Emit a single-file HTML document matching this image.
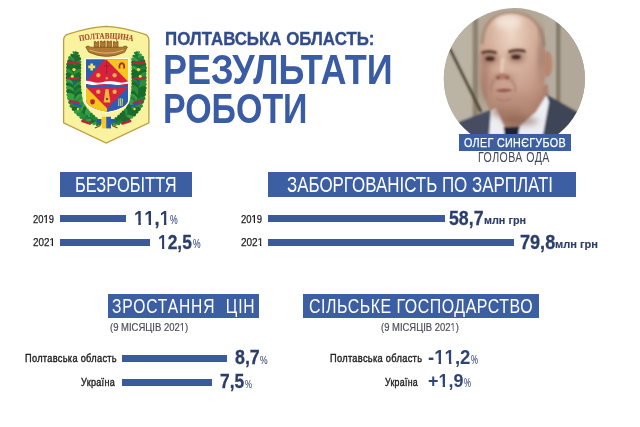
<!DOCTYPE html>
<html><head><meta charset="utf-8">
<style>
html,body{margin:0;padding:0;background:#fff;}
body{width:640px;height:427px;position:relative;overflow:hidden;font-family:"Liberation Sans",sans-serif;}
.t{position:absolute;white-space:nowrap;line-height:1;transform-origin:0 0;}
.box{position:absolute;background:#3c5ea3;}
.bar{position:absolute;background:#3a5a9c;}
svg{position:absolute;}
.o1b,.o1r{display:inline-block}
.o1b{font-weight:bold;-webkit-text-stroke:0 !important}
.o1b{clip-path:polygon(0 0,0.3706em 0,0.3706em 100%,0.2334em 100%,0.2334em 0.64em,0 0.64em)}
.o1r{clip-path:polygon(0 0,0.3398em 0,0.3398em 100%,0.2515em 100%,0.2515em 0.64em,0 0.64em)}
</style></head><body>
<svg style="left:55px;top:20px" width="100" height="130" viewBox="55 20 100 130">
  <defs>
    <filter id="eb" x="-5%" y="-5%" width="110%" height="110%"><feGaussianBlur stdDeviation="0.4"/></filter>
    <clipPath id="ish"><path d="M86 59.4 L128 59.4 L128 100 Q127.5 108 107.2 111.8 Q86.5 108 86 100 Z"/></clipPath>
  </defs>
  <path d="M63.6 40 Q63.8 34.8 69 33.8 Q90 27.2 106.2 26.3 Q122.5 27.2 143.5 33.8 Q148.7 34.8 148.9 40 L148.9 122.8 L106.2 143 L63.6 122.8 Z" fill="#f9f29e" stroke="#bf9c40" stroke-width="1.3"/>
  <g filter="url(#eb)">
  <path id="arcp" d="M68 44 Q106.3 33 144.6 44" fill="none"/>
  <text font-family="Liberation Serif" font-weight="bold" font-size="8.4" fill="#a84a2c" stroke="#a84a2c" stroke-width="0.1"><textPath href="#arcp" startOffset="50%" text-anchor="middle" textLength="54" lengthAdjust="spacingAndGlyphs">ПОЛТАВЩИНА</textPath></text>
  <g fill="#b07a34" stroke="#7a4a1c" stroke-width="0.7">
    <path d="M94.3 48 L94.3 41.4 L95.6 41.4 L95.6 42.5 L97.6 42.5 L97.6 41.4 L98.9 41.4 L98.9 48 Z"/>
    <path d="M100.6 48 L100.6 41.0 L101.9 41.0 L101.9 42.1 L103.9 42.1 L103.9 41.0 L105.2 41.0 L105.2 48 Z"/>
    <path d="M107.0 48 L107.0 41.0 L108.3 41.0 L108.3 42.1 L110.3 42.1 L110.3 41.0 L111.6 41.0 L111.6 48 Z"/>
    <path d="M113.4 48 L113.4 41.4 L114.7 41.4 L114.7 42.5 L116.7 42.5 L116.7 41.4 L118.0 41.4 L118.0 48 Z"/>
    <path d="M85.8 47 Q87.8 44.8 90.4 47.2 L122.6 47.2 Q125.2 44.8 127.4 47 L124.6 52.2 Q106.5 60.6 88.8 52.2 Z"/>
  </g>
  <path d="M89.5 50 Q106.5 56.2 123.8 50" stroke="#d6ad6a" stroke-width="1.1" fill="none"/>
  <circle cx="75.5" cy="53.5" r="2.2" fill="#1d7431"/><circle cx="75.0" cy="56.7" r="3.2" fill="#1d7431"/><circle cx="74.5" cy="59.9" r="4.3" fill="#1d7431"/><circle cx="74.1" cy="63.1" r="4.6" fill="#1d7431"/><circle cx="73.7" cy="66.3" r="4.9" fill="#1d7431"/><circle cx="73.5" cy="69.6" r="5.0" fill="#1d7431"/><circle cx="73.5" cy="72.8" r="5.0" fill="#1d7431"/><circle cx="73.5" cy="76.0" r="5.0" fill="#1d7431"/><circle cx="73.5" cy="79.3" r="5.0" fill="#1d7431"/><circle cx="73.5" cy="82.5" r="5.0" fill="#1d7431"/><circle cx="73.6" cy="85.8" r="5.0" fill="#1d7431"/><circle cx="73.8" cy="89.0" r="5.0" fill="#1d7431"/><circle cx="74.0" cy="92.2" r="5.0" fill="#1d7431"/><circle cx="74.5" cy="95.4" r="5.0" fill="#1d7431"/><circle cx="74.9" cy="98.6" r="5.0" fill="#1d7431"/><circle cx="76.0" cy="101.7" r="4.9" fill="#1d7431"/><circle cx="77.1" cy="104.8" r="4.7" fill="#1d7431"/><circle cx="78.7" cy="107.5" r="4.6" fill="#1d7431"/><circle cx="80.6" cy="110.1" r="4.4" fill="#1d7431"/><circle cx="82.7" cy="112.6" r="4.3" fill="#1d7431"/><circle cx="85.2" cy="114.7" r="4.1" fill="#1d7431"/><circle cx="87.7" cy="116.7" r="4.0" fill="#1d7431"/><circle cx="90.4" cy="118.4" r="3.7" fill="#1d7431"/><circle cx="93.2" cy="120.1" r="3.3" fill="#1d7431"/><circle cx="96.1" cy="121.6" r="2.9" fill="#1d7431"/><circle cx="99.0" cy="123.0" r="2.5" fill="#1d7431"/><ellipse cx="77.2" cy="53.3" rx="1.8" ry="1.0" transform="rotate(330 77.2 53.3)" fill="#1a6b2c"/><ellipse cx="73.9" cy="52.8" rx="1.8" ry="1.0" transform="rotate(222 73.9 52.8)" fill="#2a8f3e"/><ellipse cx="77.6" cy="56.6" rx="2.7" ry="1.5" transform="rotate(325 77.6 56.6)" fill="#1a6b2c"/><ellipse cx="72.6" cy="55.8" rx="2.7" ry="1.5" transform="rotate(216 72.6 55.8)" fill="#1a6b2c"/><ellipse cx="77.9" cy="59.9" rx="3.6" ry="2.0" transform="rotate(324 77.9 59.9)" fill="#1a6b2c"/><ellipse cx="71.3" cy="58.9" rx="3.6" ry="2.0" transform="rotate(217 71.3 58.9)" fill="#2a8f3e"/><ellipse cx="77.7" cy="63.1" rx="3.8" ry="2.2" transform="rotate(331 77.7 63.1)" fill="#2a8f3e"/><ellipse cx="70.6" cy="62.2" rx="3.8" ry="2.2" transform="rotate(217 70.6 62.2)" fill="#1a6b2c"/><ellipse cx="77.5" cy="66.2" rx="4.1" ry="2.3" transform="rotate(329 77.5 66.2)" fill="#1a6b2c"/><ellipse cx="70.0" cy="65.5" rx="4.1" ry="2.3" transform="rotate(213 70.0 65.5)" fill="#1a6b2c"/><ellipse cx="77.4" cy="69.2" rx="4.2" ry="2.4" transform="rotate(329 77.4 69.2)" fill="#1a6b2c"/><ellipse cx="69.6" cy="68.9" rx="4.2" ry="2.4" transform="rotate(226 69.6 68.9)" fill="#1a6b2c"/><ellipse cx="77.4" cy="72.3" rx="4.2" ry="2.4" transform="rotate(327 77.4 72.3)" fill="#2a8f3e"/><ellipse cx="69.6" cy="72.3" rx="4.2" ry="2.4" transform="rotate(225 69.6 72.3)" fill="#2a8f3e"/><ellipse cx="77.4" cy="75.5" rx="4.2" ry="2.4" transform="rotate(326 77.4 75.5)" fill="#1a6b2c"/><ellipse cx="69.6" cy="75.5" rx="4.2" ry="2.4" transform="rotate(211 69.6 75.5)" fill="#1a6b2c"/><ellipse cx="77.4" cy="78.8" rx="4.2" ry="2.4" transform="rotate(326 77.4 78.8)" fill="#1a6b2c"/><ellipse cx="69.6" cy="78.8" rx="4.2" ry="2.4" transform="rotate(211 69.6 78.8)" fill="#1a6b2c"/><ellipse cx="77.4" cy="82.0" rx="4.2" ry="2.4" transform="rotate(316 77.4 82.0)" fill="#1a6b2c"/><ellipse cx="69.6" cy="82.1" rx="4.2" ry="2.4" transform="rotate(217 69.6 82.1)" fill="#33a045"/><ellipse cx="77.5" cy="85.1" rx="4.2" ry="2.4" transform="rotate(314 77.5 85.1)" fill="#2a8f3e"/><ellipse cx="69.7" cy="85.4" rx="4.2" ry="2.4" transform="rotate(214 69.7 85.4)" fill="#1a6b2c"/><ellipse cx="77.7" cy="88.2" rx="4.2" ry="2.4" transform="rotate(315 77.7 88.2)" fill="#1a6b2c"/><ellipse cx="69.9" cy="88.8" rx="4.2" ry="2.4" transform="rotate(210 69.9 88.8)" fill="#33a045"/><ellipse cx="77.9" cy="91.3" rx="4.2" ry="2.4" transform="rotate(318 77.9 91.3)" fill="#21803a"/><ellipse cx="70.1" cy="92.1" rx="4.2" ry="2.4" transform="rotate(206 70.1 92.1)" fill="#1a6b2c"/><ellipse cx="78.3" cy="94.4" rx="4.2" ry="2.4" transform="rotate(323 78.3 94.4)" fill="#1a6b2c"/><ellipse cx="70.5" cy="95.5" rx="4.2" ry="2.4" transform="rotate(199 70.5 95.5)" fill="#33a045"/><ellipse cx="78.6" cy="97.3" rx="4.2" ry="2.4" transform="rotate(312 78.6 97.3)" fill="#33a045"/><ellipse cx="71.0" cy="99.1" rx="4.2" ry="2.4" transform="rotate(206 71.0 99.1)" fill="#33a045"/><ellipse cx="79.4" cy="100.0" rx="4.1" ry="2.3" transform="rotate(308 79.4 100.0)" fill="#2a8f3e"/><ellipse cx="72.2" cy="102.5" rx="4.1" ry="2.3" transform="rotate(188 72.2 102.5)" fill="#21803a"/><ellipse cx="80.2" cy="102.8" rx="4.0" ry="2.2" transform="rotate(294 80.2 102.8)" fill="#33a045"/><ellipse cx="73.5" cy="105.9" rx="4.0" ry="2.2" transform="rotate(183 73.5 105.9)" fill="#21803a"/><ellipse cx="81.4" cy="105.2" rx="3.8" ry="2.2" transform="rotate(290 81.4 105.2)" fill="#2a8f3e"/><ellipse cx="75.4" cy="109.1" rx="3.8" ry="2.2" transform="rotate(187 75.4 109.1)" fill="#1a6b2c"/><ellipse cx="83.0" cy="107.6" rx="3.7" ry="2.1" transform="rotate(292 83.0 107.6)" fill="#33a045"/><ellipse cx="77.6" cy="111.9" rx="3.7" ry="2.1" transform="rotate(173 77.6 111.9)" fill="#33a045"/><ellipse cx="84.7" cy="109.9" rx="3.6" ry="2.0" transform="rotate(281 84.7 109.9)" fill="#1a6b2c"/><ellipse cx="80.0" cy="114.6" rx="3.6" ry="2.0" transform="rotate(176 80.0 114.6)" fill="#2a8f3e"/><ellipse cx="86.9" cy="111.9" rx="3.4" ry="1.9" transform="rotate(282 86.9 111.9)" fill="#33a045"/><ellipse cx="82.7" cy="116.8" rx="3.4" ry="1.9" transform="rotate(164 82.7 116.8)" fill="#2a8f3e"/><ellipse cx="89.1" cy="113.9" rx="3.3" ry="1.9" transform="rotate(262 89.1 113.9)" fill="#33a045"/><ellipse cx="85.5" cy="119.0" rx="3.3" ry="1.9" transform="rotate(164 85.5 119.0)" fill="#21803a"/><ellipse cx="91.5" cy="115.7" rx="3.1" ry="1.7" transform="rotate(262 91.5 115.7)" fill="#21803a"/><ellipse cx="88.5" cy="120.6" rx="3.1" ry="1.7" transform="rotate(164 88.5 120.6)" fill="#33a045"/><ellipse cx="94.0" cy="117.5" rx="2.8" ry="1.6" transform="rotate(254 94.0 117.5)" fill="#21803a"/><ellipse cx="91.5" cy="122.1" rx="2.8" ry="1.6" transform="rotate(151 91.5 122.1)" fill="#1a6b2c"/><ellipse cx="96.7" cy="119.3" rx="2.4" ry="1.4" transform="rotate(254 96.7 119.3)" fill="#2a8f3e"/><ellipse cx="94.6" cy="123.4" rx="2.4" ry="1.4" transform="rotate(146 94.6 123.4)" fill="#33a045"/><ellipse cx="99.4" cy="121.0" rx="2.1" ry="1.2" transform="rotate(254 99.4 121.0)" fill="#1a6b2c"/><ellipse cx="97.7" cy="124.5" rx="2.1" ry="1.2" transform="rotate(150 97.7 124.5)" fill="#21803a"/>
<circle cx="137.0" cy="53.5" r="2.2" fill="#1d7431"/><circle cx="137.5" cy="56.7" r="3.2" fill="#1d7431"/><circle cx="138.0" cy="59.9" r="4.3" fill="#1d7431"/><circle cx="138.4" cy="63.1" r="4.6" fill="#1d7431"/><circle cx="138.8" cy="66.3" r="4.9" fill="#1d7431"/><circle cx="139.0" cy="69.6" r="5.0" fill="#1d7431"/><circle cx="139.0" cy="72.8" r="5.0" fill="#1d7431"/><circle cx="139.0" cy="76.0" r="5.0" fill="#1d7431"/><circle cx="139.0" cy="79.3" r="5.0" fill="#1d7431"/><circle cx="139.0" cy="82.5" r="5.0" fill="#1d7431"/><circle cx="138.9" cy="85.8" r="5.0" fill="#1d7431"/><circle cx="138.7" cy="89.0" r="5.0" fill="#1d7431"/><circle cx="138.5" cy="92.2" r="5.0" fill="#1d7431"/><circle cx="138.0" cy="95.4" r="5.0" fill="#1d7431"/><circle cx="137.6" cy="98.6" r="5.0" fill="#1d7431"/><circle cx="136.5" cy="101.7" r="4.9" fill="#1d7431"/><circle cx="135.4" cy="104.8" r="4.7" fill="#1d7431"/><circle cx="133.8" cy="107.5" r="4.6" fill="#1d7431"/><circle cx="131.9" cy="110.1" r="4.4" fill="#1d7431"/><circle cx="129.8" cy="112.6" r="4.3" fill="#1d7431"/><circle cx="127.3" cy="114.7" r="4.1" fill="#1d7431"/><circle cx="124.8" cy="116.7" r="4.0" fill="#1d7431"/><circle cx="122.1" cy="118.4" r="3.7" fill="#1d7431"/><circle cx="119.3" cy="120.1" r="3.3" fill="#1d7431"/><circle cx="116.4" cy="121.6" r="2.9" fill="#1d7431"/><circle cx="113.5" cy="123.0" r="2.5" fill="#1d7431"/><ellipse cx="135.3" cy="53.3" rx="1.8" ry="1.0" transform="rotate(-145 135.3 53.3)" fill="#21803a"/><ellipse cx="138.6" cy="52.8" rx="1.8" ry="1.0" transform="rotate(-42 138.6 52.8)" fill="#33a045"/><ellipse cx="134.9" cy="56.6" rx="2.7" ry="1.5" transform="rotate(-161 134.9 56.6)" fill="#21803a"/><ellipse cx="139.9" cy="55.8" rx="2.7" ry="1.5" transform="rotate(-51 139.9 55.8)" fill="#33a045"/><ellipse cx="134.6" cy="59.9" rx="3.6" ry="2.0" transform="rotate(-157 134.6 59.9)" fill="#33a045"/><ellipse cx="141.2" cy="58.9" rx="3.6" ry="2.0" transform="rotate(-47 141.2 58.9)" fill="#21803a"/><ellipse cx="134.8" cy="63.1" rx="3.8" ry="2.2" transform="rotate(-161 134.8 63.1)" fill="#1a6b2c"/><ellipse cx="141.9" cy="62.2" rx="3.8" ry="2.2" transform="rotate(-34 141.9 62.2)" fill="#1a6b2c"/><ellipse cx="135.0" cy="66.2" rx="4.1" ry="2.3" transform="rotate(-145 135.0 66.2)" fill="#1a6b2c"/><ellipse cx="142.5" cy="65.5" rx="4.1" ry="2.3" transform="rotate(-31 142.5 65.5)" fill="#1a6b2c"/><ellipse cx="135.1" cy="69.2" rx="4.2" ry="2.4" transform="rotate(-140 135.1 69.2)" fill="#33a045"/><ellipse cx="142.9" cy="68.9" rx="4.2" ry="2.4" transform="rotate(-27 142.9 68.9)" fill="#21803a"/><ellipse cx="135.1" cy="72.3" rx="4.2" ry="2.4" transform="rotate(-146 135.1 72.3)" fill="#1a6b2c"/><ellipse cx="142.9" cy="72.3" rx="4.2" ry="2.4" transform="rotate(-36 142.9 72.3)" fill="#1a6b2c"/><ellipse cx="135.1" cy="75.5" rx="4.2" ry="2.4" transform="rotate(-149 135.1 75.5)" fill="#1a6b2c"/><ellipse cx="142.9" cy="75.5" rx="4.2" ry="2.4" transform="rotate(-44 142.9 75.5)" fill="#2a8f3e"/><ellipse cx="135.1" cy="78.8" rx="4.2" ry="2.4" transform="rotate(-144 135.1 78.8)" fill="#1a6b2c"/><ellipse cx="142.9" cy="78.8" rx="4.2" ry="2.4" transform="rotate(-33 142.9 78.8)" fill="#21803a"/><ellipse cx="135.1" cy="82.0" rx="4.2" ry="2.4" transform="rotate(-142 135.1 82.0)" fill="#21803a"/><ellipse cx="142.9" cy="82.1" rx="4.2" ry="2.4" transform="rotate(-37 142.9 82.1)" fill="#2a8f3e"/><ellipse cx="135.0" cy="85.1" rx="4.2" ry="2.4" transform="rotate(-136 135.0 85.1)" fill="#1a6b2c"/><ellipse cx="142.8" cy="85.4" rx="4.2" ry="2.4" transform="rotate(-31 142.8 85.4)" fill="#2a8f3e"/><ellipse cx="134.8" cy="88.2" rx="4.2" ry="2.4" transform="rotate(-138 134.8 88.2)" fill="#2a8f3e"/><ellipse cx="142.6" cy="88.8" rx="4.2" ry="2.4" transform="rotate(-23 142.6 88.8)" fill="#1a6b2c"/><ellipse cx="134.6" cy="91.3" rx="4.2" ry="2.4" transform="rotate(-132 134.6 91.3)" fill="#2a8f3e"/><ellipse cx="142.4" cy="92.1" rx="4.2" ry="2.4" transform="rotate(-38 142.4 92.1)" fill="#1a6b2c"/><ellipse cx="134.2" cy="94.4" rx="4.2" ry="2.4" transform="rotate(-127 134.2 94.4)" fill="#1a6b2c"/><ellipse cx="142.0" cy="95.5" rx="4.2" ry="2.4" transform="rotate(-29 142.0 95.5)" fill="#1a6b2c"/><ellipse cx="133.9" cy="97.3" rx="4.2" ry="2.4" transform="rotate(-134 133.9 97.3)" fill="#33a045"/><ellipse cx="141.5" cy="99.1" rx="4.2" ry="2.4" transform="rotate(-24 141.5 99.1)" fill="#21803a"/><ellipse cx="133.1" cy="100.0" rx="4.1" ry="2.3" transform="rotate(-118 133.1 100.0)" fill="#21803a"/><ellipse cx="140.3" cy="102.5" rx="4.1" ry="2.3" transform="rotate(-26 140.3 102.5)" fill="#21803a"/><ellipse cx="132.3" cy="102.8" rx="4.0" ry="2.2" transform="rotate(-120 132.3 102.8)" fill="#33a045"/><ellipse cx="139.0" cy="105.9" rx="4.0" ry="2.2" transform="rotate(-2 139.0 105.9)" fill="#2a8f3e"/><ellipse cx="131.1" cy="105.2" rx="3.8" ry="2.2" transform="rotate(-117 131.1 105.2)" fill="#33a045"/><ellipse cx="137.1" cy="109.1" rx="3.8" ry="2.2" transform="rotate(-1 137.1 109.1)" fill="#1a6b2c"/><ellipse cx="129.5" cy="107.6" rx="3.7" ry="2.1" transform="rotate(-107 129.5 107.6)" fill="#1a6b2c"/><ellipse cx="134.9" cy="111.9" rx="3.7" ry="2.1" transform="rotate(-5 134.9 111.9)" fill="#1a6b2c"/><ellipse cx="127.8" cy="109.9" rx="3.6" ry="2.0" transform="rotate(-97 127.8 109.9)" fill="#1a6b2c"/><ellipse cx="132.5" cy="114.6" rx="3.6" ry="2.0" transform="rotate(2 132.5 114.6)" fill="#1a6b2c"/><ellipse cx="125.6" cy="111.9" rx="3.4" ry="1.9" transform="rotate(-91 125.6 111.9)" fill="#2a8f3e"/><ellipse cx="129.8" cy="116.8" rx="3.4" ry="1.9" transform="rotate(11 129.8 116.8)" fill="#33a045"/><ellipse cx="123.4" cy="113.9" rx="3.3" ry="1.9" transform="rotate(-91 123.4 113.9)" fill="#1a6b2c"/><ellipse cx="127.0" cy="119.0" rx="3.3" ry="1.9" transform="rotate(22 127.0 119.0)" fill="#1a6b2c"/><ellipse cx="121.0" cy="115.7" rx="3.1" ry="1.7" transform="rotate(-87 121.0 115.7)" fill="#1a6b2c"/><ellipse cx="124.0" cy="120.6" rx="3.1" ry="1.7" transform="rotate(28 124.0 120.6)" fill="#1a6b2c"/><ellipse cx="118.5" cy="117.5" rx="2.8" ry="1.6" transform="rotate(-86 118.5 117.5)" fill="#1a6b2c"/><ellipse cx="121.0" cy="122.1" rx="2.8" ry="1.6" transform="rotate(20 121.0 122.1)" fill="#21803a"/><ellipse cx="115.8" cy="119.3" rx="2.4" ry="1.4" transform="rotate(-87 115.8 119.3)" fill="#1a6b2c"/><ellipse cx="117.9" cy="123.4" rx="2.4" ry="1.4" transform="rotate(34 117.9 123.4)" fill="#21803a"/><ellipse cx="113.1" cy="121.0" rx="2.1" ry="1.2" transform="rotate(-79 113.1 121.0)" fill="#2a8f3e"/><ellipse cx="114.8" cy="124.5" rx="2.1" ry="1.2" transform="rotate(19 114.8 124.5)" fill="#33a045"/>
  <g fill="#b8283c">
    <rect x="67" y="61.6" width="12.5" height="2.6" rx="1.2"/><rect x="67" y="77" width="12" height="2.6" rx="1.2"/><rect x="69" y="100.6" width="11" height="2.6" rx="1.2" transform="rotate(12 74 102)"/><rect x="81" y="120.8" width="10.5" height="2.6" rx="1.2" transform="rotate(18 86 122)"/>
    <rect x="133" y="61.6" width="12.5" height="2.6" rx="1.2"/><rect x="133.5" y="77" width="12" height="2.6" rx="1.2"/><rect x="132.5" y="100.6" width="11" height="2.6" rx="1.2" transform="rotate(-12 138.5 102)"/><rect x="121" y="120.8" width="10.5" height="2.6" rx="1.2" transform="rotate(-18 126.5 122)"/>
  </g>
  <g fill="#ecd84a">
    <circle cx="74" cy="69.6" r="1.7"/><circle cx="72.3" cy="76.2" r="1.5"/><circle cx="78" cy="109" r="1.2"/>
    <circle cx="138.5" cy="69.6" r="1.7"/><circle cx="140.2" cy="76.2" r="1.5"/><circle cx="134.5" cy="109" r="1.2"/>
  </g>
  <g fill="#2c56b0"><circle cx="74" cy="82.5" r="1.5"/><circle cx="138.5" cy="82.5" r="1.5"/><rect x="73" y="103.6" width="9" height="2.2" transform="rotate(20 77 104.7)"/><rect x="130.5" y="103.6" width="9" height="2.2" transform="rotate(-20 135.5 104.7)"/><rect x="96.5" y="119" width="5" height="3.2"/><rect x="111" y="119" width="5" height="3.2"/></g>
  <rect x="101.8" y="116.8" width="4.2" height="11.6" fill="#f5c820"/>
  <rect x="106.2" y="116.8" width="4.8" height="11.6" fill="#2a5cb6"/>
  <path d="M95 128 L100.5 125.5 M112 125.5 L117.5 128" stroke="#8a4020" stroke-width="1.3"/>
  <path d="M86 59.4 L128 59.4 L128 100 Q127.5 108 107.2 111.8 Q86.5 108 86 100 Z" fill="none" stroke="#fffbe0" stroke-width="3"/>
  <g clip-path="url(#ish)">
    <rect x="80" y="55" width="55" height="60" fill="#d8223c"/>
    <path d="M80 55 L104.5 55 L104.5 59.4 L86 81.5 L80 81.5 Z" fill="#2b5db4"/>
    <path d="M106.5 59.4 L128 59.4 L128 81.5 Z" fill="#f6c61f"/>
    <path d="M80 87 L86 87 L107.2 108.5 L107.2 115 L80 115 Z" fill="#f6c61f"/>
    <path d="M135 87 L128 87 L107.2 108.5 L107.2 115 L135 115 Z" fill="#2b5db4"/>
    <path d="M80 81.5 Q86 80 92 81.8 T104 81.8 T116 81.8 T128 81.5 L135 81.5 L135 83.6 Q128 83.2 122 84.6 T110 84.6 T98 84.6 T86 84 L80 84 Z" fill="#ffffff"/>
    <path d="M80 84 Q86 83.4 92 85 T104 85 T116 85 T128 84.4 L135 84.4 L135 86.8 Q128 86.6 122 87.4 T110 87.4 T98 87.4 T86 86.8 L80 86.8 Z" fill="#2b5db4"/>
  </g>
  <path d="M90.4 63.4 h2.6 v2.2 h2.2 v2.6 h-2.2 v2.2 h-2.6 v-2.2 h-2.2 v-2.6 h2.2 z" fill="#f3e35a"/>
  <path d="M118.6 68.5 Q118 62.5 121.8 62.3 Q125.6 62.5 125 68.5 L123.2 68.5 Q123.8 64.3 121.8 64.2 Q119.8 64.3 120.4 68.5 Z" fill="#a02a1c"/>
  <g fill="#f2a23c">
    <circle cx="98.3" cy="75.3" r="2.2"/><circle cx="114.6" cy="75.3" r="2.2"/><circle cx="106.8" cy="78.2" r="1.2"/>
    <circle cx="98.3" cy="91.8" r="2.2"/><circle cx="114.6" cy="91.8" r="2.2"/>
  </g>
  <g fill="#f8d070">
    <circle cx="98.3" cy="75.3" r="0.9"/><circle cx="114.6" cy="75.3" r="0.9"/><circle cx="98.3" cy="91.8" r="0.9"/><circle cx="114.6" cy="91.8" r="0.9"/>
  </g>
  <path d="M106.6 62 L106.6 74 M103.5 66 L109.7 66" stroke="#a81c2c" stroke-width="0.9"/>
  <path d="M103.6 102.5 L105.5 89 L108.5 89 L110.4 102.5 Z" fill="#f2b43a"/>
  <circle cx="107" cy="99" r="1" fill="#5a1a10"/>
  <path d="M90.3 100 Q92.5 98.5 94.8 100 L94.8 103 Q92.5 106 90.3 103 Z" fill="#c02030"/>
  <path d="M118.5 106 L119 98.5 M120.3 106 L120.8 98 M122 106 L122.6 98.8" stroke="#c8cf5a" stroke-width="1.1"/>
  </g>
</svg>
<svg style="left:440px;top:4px" width="150" height="150" viewBox="440 4 150 150">
  <defs>
    <clipPath id="cc"><circle cx="514.4" cy="78.7" r="70.6"/></clipPath>
    <filter id="pb" x="-10%" y="-10%" width="120%" height="120%"><feGaussianBlur stdDeviation="1.1"/></filter>
    <filter id="pb2" x="-20%" y="-20%" width="140%" height="140%"><feGaussianBlur stdDeviation="0.8"/></filter>
    <filter id="pb3" x="-30%" y="-30%" width="160%" height="160%"><feGaussianBlur stdDeviation="3"/></filter>
    <radialGradient id="skin" cx="0.48" cy="0.2" r="0.85">
      <stop offset="0" stop-color="#eed7c7"/>
      <stop offset="0.35" stop-color="#d9b5a1"/>
      <stop offset="0.7" stop-color="#c49a86"/>
      <stop offset="1" stop-color="#a27662"/>
    </radialGradient>
  </defs>
  <g clip-path="url(#cc)">
    <rect x="440" y="4" width="150" height="150" fill="#b3a999"/>
    <g filter="url(#pb)">
      <rect x="440" y="4" width="31" height="150" fill="#bbb3a3"/>
      <rect x="473" y="4" width="5" height="125" fill="#8e8372"/>
      <rect x="544" y="4" width="12" height="150" fill="#b6ad9f"/>
      <rect x="556" y="4" width="4.5" height="120" fill="#857a6b"/>
      <rect x="561" y="4" width="30" height="150" fill="#b2a899"/>
      <path d="M449.5 48 L481 112" stroke="#4f4536" stroke-width="3"/>
      <ellipse cx="547.5" cy="64" rx="5" ry="13" fill="#b98872"/>
      <path d="M490 100 L548 84 L550 126 L494 130 Z" fill="#b08270"/>
      <path d="M511 10.8 C532 10.8 544.8 24 545 45 L545 76 C544.5 94 538 106 528 113 C520 119 512 122 504 121 C496 119 489 110 485.5 100 C482 92 480.5 84 480.5 74 L480.2 45 C480.5 23 492 10.8 511 10.8 Z" fill="url(#skin)"/>
      <path d="M440 132 L461 121 L493 109 L500 140 L440 165 Z" fill="#474e61"/>
      <path d="M546 94 L576 111 L592 118 L592 165 L528 165 L540 132 Z" fill="#3e4456"/>
      <path d="M491 110 L496 108 L505 128 L504 135 L489 135 Z" fill="#eceef2"/>
      <path d="M546.5 95 L549 102 L543 135 L518 135 L520 126 L536 112 Z" fill="#eceef2"/>
      <path d="M503.5 127 L519.5 126.5 L517.5 142 L506 142 Z" fill="#1d2131"/>
    </g>
    <g filter="url(#pb3)">
      <ellipse cx="508" cy="22" rx="13" ry="7" fill="#f8eae0" opacity="0.8"/>
      <ellipse cx="484.5" cy="80" rx="4" ry="22" fill="#93685a" opacity="0.55"/>
      <ellipse cx="541" cy="62" rx="3.5" ry="22" fill="#9c7262" opacity="0.5"/>
      <ellipse cx="507" cy="112" rx="16" ry="6" fill="#9a705e" opacity="0.65"/>
      <ellipse cx="510" cy="102" rx="24" ry="10" fill="#b48a78" opacity="0.45"/>
      <ellipse cx="520" cy="121" rx="18" ry="4" fill="#7e5646" opacity="0.6"/>
      <ellipse cx="489" cy="57" rx="8" ry="5" fill="#8c6254" opacity="0.5"/>
      <ellipse cx="516" cy="56" rx="8" ry="5" fill="#8c6254" opacity="0.5"/>
    </g>
    <path d="M482 44 C482.5 22 495 12 511 12 C528 12 543 22 544 46" stroke="#9a8474" stroke-width="3.5" fill="none" opacity="0.7" filter="url(#pb2)"/>
    <path d="M539 28 C543 38 544 52 542 66" stroke="#8c6e60" stroke-width="4" fill="none" opacity="0.55" filter="url(#pb3)"/>
    <g filter="url(#pb3)" opacity="0.7">
      <ellipse cx="490" cy="59" rx="8" ry="4.5" fill="#9a6a5a"/>
      <ellipse cx="516.5" cy="57.5" rx="8" ry="4.5" fill="#9a6a5a"/>
      <ellipse cx="496" cy="78" rx="4" ry="3" fill="#a87260"/>
      <ellipse cx="510" cy="78" rx="4" ry="3" fill="#a87260"/>
    </g>
    <g filter="url(#pb2)" opacity="0.6">
      <path d="M494 80 Q490 86 492 92" stroke="#9a6a5a" stroke-width="1.6" fill="none"/>
      <path d="M511 80 Q517 86 515 92" stroke="#9a6a5a" stroke-width="1.6" fill="none"/>
      <path d="M497 99 Q504 102 511 99" stroke="#a07060" stroke-width="1.5" fill="none"/>
    </g>
    <g filter="url(#pb2)">
      <path d="M481.5 53 Q489 50 496.5 53" stroke="#4e3228" stroke-width="2.5" fill="none"/>
      <path d="M508.5 52 Q517 49 525.5 51.5" stroke="#4e3228" stroke-width="2.5" fill="none"/>
      <ellipse cx="490" cy="58.7" rx="4.5" ry="2.2" fill="#452c26"/>
      <ellipse cx="516" cy="57" rx="4.5" ry="2.2" fill="#452c26"/>
      <path d="M503 58 L501.5 72" stroke="#edd2c2" stroke-width="3" fill="none" opacity="0.8"/>
      <ellipse cx="502.5" cy="76.5" rx="7" ry="3" fill="#ae7a68"/>
      <path d="M494.5 90.5 Q504 87.5 513 90 Q504 94 494.5 90.5 Z" fill="#8f554b"/>
      <ellipse cx="498" cy="78" rx="2" ry="1.3" fill="#7a4a3e"/>
      <ellipse cx="507.5" cy="78" rx="2" ry="1.3" fill="#7a4a3e"/>
    </g>
  </g>
</svg>

<div class="box" style="left:459px;top:134px;width:112px;height:16.5px"></div>
<div class="box" style="left:60px;top:172px;width:132.3px;height:24.6px"></div>
<div class="box" style="left:268px;top:172px;width:308px;height:24.6px"></div>
<div class="bar" style="left:60px;top:215px;width:66px;height:6.5px"></div>
<div class="bar" style="left:60px;top:239.3px;width:90px;height:6.3px"></div>
<div class="bar" style="left:268px;top:215px;width:177px;height:6.5px"></div>
<div class="bar" style="left:268px;top:239.3px;width:246px;height:6.3px"></div>
<div class="box" style="left:108px;top:294px;width:151px;height:24px"></div>
<div class="box" style="left:303px;top:293.5px;width:236px;height:24.8px"></div>
<div class="bar" style="left:122px;top:355px;width:105px;height:6.8px"></div>
<div class="bar" style="left:122px;top:379px;width:90px;height:6.8px"></div>
<div class="t" id="t1" style="left:165.17px;top:30.40px;font-size:18.90px;font-weight:bold;color:#324c8a;transform:scaleX(0.8936);-webkit-text-stroke:0.35px #324c8a;">ПОЛТАВСЬКА ОБЛАСТЬ:</div>
<div class="t" id="t2" style="left:163.22px;top:49.09px;font-size:42.30px;font-weight:bold;color:#3a5ca5;transform:scaleX(0.8517);">РЕЗУЛЬТАТИ</div>
<div class="t" id="t3" style="left:163.36px;top:87.97px;font-size:42.44px;font-weight:bold;color:#3a5ca5;transform:scaleX(0.7997);">РОБОТИ</div>
<div class="t" id="n1" style="left:463.80px;top:135.63px;font-size:13.66px;color:#fff;transform:scaleX(0.7888);-webkit-text-stroke:0.25px #fff;letter-spacing:0.4px;">ОЛЕГ СИНЄГУБОВ</div>
<div class="t" id="n2" style="left:478.10px;top:150.06px;font-size:14.10px;color:#44485a;transform:scaleX(0.7505);letter-spacing:0.6px;">ГОЛОВА ОДА</div>
<div class="t" id="h1" style="left:74.66px;top:175.41px;font-size:21.37px;color:#fff;transform:scaleX(0.7688);">БЕЗРОБІТТЯ</div>
<div class="t" id="h2" style="left:287.33px;top:175.41px;font-size:21.37px;color:#fff;transform:scaleX(0.7921);">ЗАБОРГОВАНІСТЬ ПО ЗАРПЛАТІ</div>
<div class="t" id="y1" style="left:33.31px;top:214.49px;font-size:10.76px;color:#1e1e1e;transform:scaleX(0.8733);-webkit-text-stroke:0.25px #1e1e1e;">20<span class="o1b">1</span>9</div>
<div class="t" id="y2" style="left:33.29px;top:238.34px;font-size:10.47px;color:#1e1e1e;transform:scaleX(0.9422);-webkit-text-stroke:0.25px #1e1e1e;">202<span class="o1b">1</span></div>
<div class="t" id="y3" style="left:241.15px;top:214.49px;font-size:10.76px;color:#1e1e1e;transform:scaleX(0.8841);-webkit-text-stroke:0.25px #1e1e1e;">20<span class="o1b">1</span>9</div>
<div class="t" id="y4" style="left:241.13px;top:238.34px;font-size:10.47px;color:#1e1e1e;transform:scaleX(0.9542);-webkit-text-stroke:0.25px #1e1e1e;">202<span class="o1b">1</span></div>
<div class="t" id="v1" style="left:133.79px;top:208.10px;font-size:20.78px;font-weight:bold;color:#2b3e6b;transform:scaleX(0.8875);-webkit-text-stroke:0.3px #2b3e6b;"><span class="o1b">1</span><span class="o1b">1</span>,<span class="o1b">1</span></div>
<div class="t" id="p1" style="left:169.63px;top:215.01px;font-size:11.92px;color:#3a4c80;transform:scaleX(0.7271);-webkit-text-stroke:0.1px #3a4c80;">%</div>
<div class="t" id="v2" style="left:157.52px;top:231.98px;font-size:20.93px;font-weight:bold;color:#2b3e6b;transform:scaleX(0.8311);-webkit-text-stroke:0.3px #2b3e6b;"><span class="o1b">1</span>2,5</div>
<div class="t" id="p2" style="left:192.93px;top:239.21px;font-size:11.92px;color:#3a4c80;transform:scaleX(0.7169);-webkit-text-stroke:0.1px #3a4c80;">%</div>
<div class="t" id="v3" style="left:448.92px;top:208.00px;font-size:20.78px;font-weight:bold;color:#2b3e6b;transform:scaleX(0.8536);-webkit-text-stroke:0.3px #2b3e6b;">58,7</div>
<div class="t" id="u3" style="left:484.03px;top:214.26px;font-size:11.74px;font-weight:bold;color:#2b3e6b;transform:scaleX(0.9218);-webkit-text-stroke:0.15px #2b3e6b;">млн грн</div>
<div class="t" id="v4" style="left:519.96px;top:230.96px;font-size:21.08px;font-weight:bold;color:#2b3e6b;transform:scaleX(0.8581);-webkit-text-stroke:0.3px #2b3e6b;">79,8</div>
<div class="t" id="u4" style="left:554.60px;top:239.32px;font-size:11.55px;font-weight:bold;color:#2b3e6b;transform:scaleX(0.9585);-webkit-text-stroke:0.15px #2b3e6b;">млн грн</div>
<div class="t" id="h3" style="left:111.93px;top:296.84px;font-size:19.91px;color:#fff;transform:scaleX(0.7838);letter-spacing:1.1px;">ЗРОСТАННЯ&nbsp; ЦІН</div>
<div class="t" id="s1" style="left:110.42px;top:322.00px;font-size:11.34px;color:#4b4d5a;transform:scaleX(0.8378);-webkit-text-stroke:0.2px #4b4d5a;">(9 МІСЯЦІВ 202<span class="o1r">1</span>)</div>
<div class="t" id="h4" style="left:308.58px;top:295.80px;font-size:20.20px;color:#fff;transform:scaleX(0.7877);letter-spacing:0.7px;">СІЛЬСЬКЕ ГОСПОДАРСТВО</div>
<div class="t" id="s2" style="left:381.12px;top:322.00px;font-size:11.34px;color:#4b4d5a;transform:scaleX(0.8335);-webkit-text-stroke:0.2px #4b4d5a;">(9 МІСЯЦІВ 202<span class="o1r">1</span>)</div>
<div class="t" id="l1" style="left:25.43px;top:353.22px;font-size:10.61px;color:#1f1f1f;transform:scaleX(0.8694);-webkit-text-stroke:0.4px #1f1f1f;letter-spacing:0.35px;">Полтавська область</div>
<div class="t" id="l2" style="left:80.65px;top:377.02px;font-size:10.61px;color:#1f1f1f;transform:scaleX(0.8543);-webkit-text-stroke:0.4px #1f1f1f;letter-spacing:0.35px;">Україна</div>
<div class="t" id="v5" style="left:234.67px;top:347.07px;font-size:20.35px;font-weight:bold;color:#2b3e6b;transform:scaleX(0.8748);-webkit-text-stroke:0.3px #2b3e6b;">8,7</div>
<div class="t" id="p5" style="left:259.84px;top:353.93px;font-size:11.77px;color:#3a4c80;transform:scaleX(0.7212);-webkit-text-stroke:0.1px #3a4c80;">%</div>
<div class="t" id="v6" style="left:219.67px;top:371.07px;font-size:20.35px;font-weight:bold;color:#2b3e6b;transform:scaleX(0.8545);-webkit-text-stroke:0.3px #2b3e6b;">7,5</div>
<div class="t" id="p6" style="left:245.37px;top:378.26px;font-size:11.63px;color:#3a4c80;transform:scaleX(0.6738);-webkit-text-stroke:0.1px #3a4c80;">%</div>
<div class="t" id="l3" style="left:330.23px;top:352.99px;font-size:10.76px;color:#1f1f1f;transform:scaleX(0.8614);-webkit-text-stroke:0.4px #1f1f1f;letter-spacing:0.35px;">Полтавська область</div>
<div class="t" id="l4" style="left:385.16px;top:376.92px;font-size:10.61px;color:#1f1f1f;transform:scaleX(0.8288);-webkit-text-stroke:0.4px #1f1f1f;letter-spacing:0.35px;">Україна</div>
<div class="t" id="v7" style="left:428.40px;top:347.07px;font-size:20.35px;font-weight:bold;color:#2f4477;transform:scaleX(0.9149);">-<span class="o1b">1</span><span class="o1b">1</span>,2</div>
<div class="t" id="p7" style="left:470.97px;top:355.21px;font-size:11.92px;color:#3a4c80;transform:scaleX(0.6554);-webkit-text-stroke:0.1px #3a4c80;">%</div>
<div class="t" id="v8" style="left:428.37px;top:371.73px;font-size:18.75px;font-weight:bold;color:#2f4477;transform:scaleX(0.9559);">+<span class="o1b">1</span>,9</div>
<div class="t" id="p8" style="left:463.97px;top:377.51px;font-size:11.92px;color:#3a4c80;transform:scaleX(0.6554);-webkit-text-stroke:0.1px #3a4c80;">%</div>
</body></html>
